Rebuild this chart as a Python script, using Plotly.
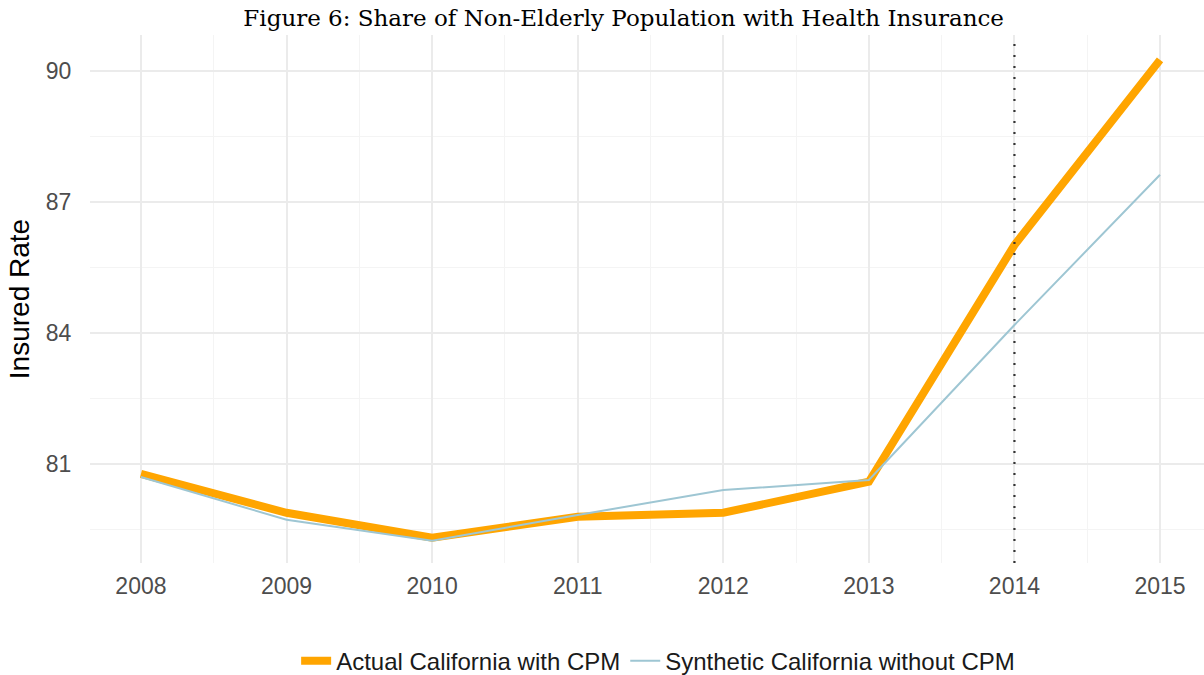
import plotly.graph_objects as go

years = [2008, 2009, 2010, 2011, 2012, 2013, 2014, 2015]
actual = [80.77, 79.88, 79.31, 79.79, 79.88, 80.59, 86.01, 90.25]
synthetic = [80.70, 79.72, 79.24, 79.83, 80.40, 80.63, 84.18, 87.62]
treatment_year = 2014
y_ticks = [81, 84, 87, 90]

fig = go.Figure()
fig.add_trace(go.Scatter(x=years, y=actual, mode="lines", name="Actual California with CPM",
                         line=dict(color="#FFA500", width=8)))
fig.add_trace(go.Scatter(x=years, y=synthetic, mode="lines", name="Synthetic California without CPM",
                         line=dict(color="#9EC6D3", width=2)))
fig.add_shape(type="line", x0=treatment_year, x1=treatment_year, xref="x", y0=0, y1=1, yref="paper",
              line=dict(color="#333333", width=2.2, dash="2px,9px"))

grid_major = "#EBEBEB"
grid_minor = "#F4F4F4"
fig.update_layout(
    width=1204, height=675,
    paper_bgcolor="white", plot_bgcolor="white",
    margin=dict(l=90, r=0, t=35, b=112),
    title=dict(text="Figure 6: Share of Non-Elderly Population with Health Insurance",
               x=0.518, xanchor="center", y=0.973, yanchor="middle",
               font=dict(family="DejaVu Serif", size=23, color="black")),
    font=dict(family="Liberation Sans"),
    xaxis=dict(range=[2007.65, 2015.302], tickvals=years, ticktext=[str(y) for y in years],
               automargin=False,
               showgrid=True, gridcolor=grid_major, gridwidth=1.5, zeroline=False, showline=False,
               ticks="outside", ticklen=2, tickcolor="rgba(0,0,0,0)",
               tickfont=dict(size=23, color="#4D4D4D"),
               minor=dict(tick0=2008.5, dtick=1, showgrid=True, gridcolor=grid_minor, gridwidth=1)),
    yaxis=dict(range=[78.73, 90.82], tickvals=y_ticks, ticktext=[str(v) for v in y_ticks],
               automargin=False,
               showgrid=True, gridcolor=grid_major, gridwidth=1.5, zeroline=False, showline=False,
               ticks="outside", ticklen=13, tickcolor="rgba(0,0,0,0)",
               tickfont=dict(size=23, color="#4D4D4D"),
               title=dict(text="Insured Rate", font=dict(size=28, color="black"), standoff=8),
               minor=dict(tick0=79.5, dtick=3, showgrid=True, gridcolor=grid_minor, gridwidth=1)),
    legend=dict(orientation="h", x=0.51, xanchor="center", y=0.0207, yanchor="middle",
                yref="container", xref="paper",
                font=dict(size=24, color="#1A1A1A"), tracegroupgap=0),
    showlegend=True,
)
fig.write_html("out.html", config={"displayModeBar": False},
               post_script="document.body.style.margin='0';document.body.style.overflow='hidden';")
